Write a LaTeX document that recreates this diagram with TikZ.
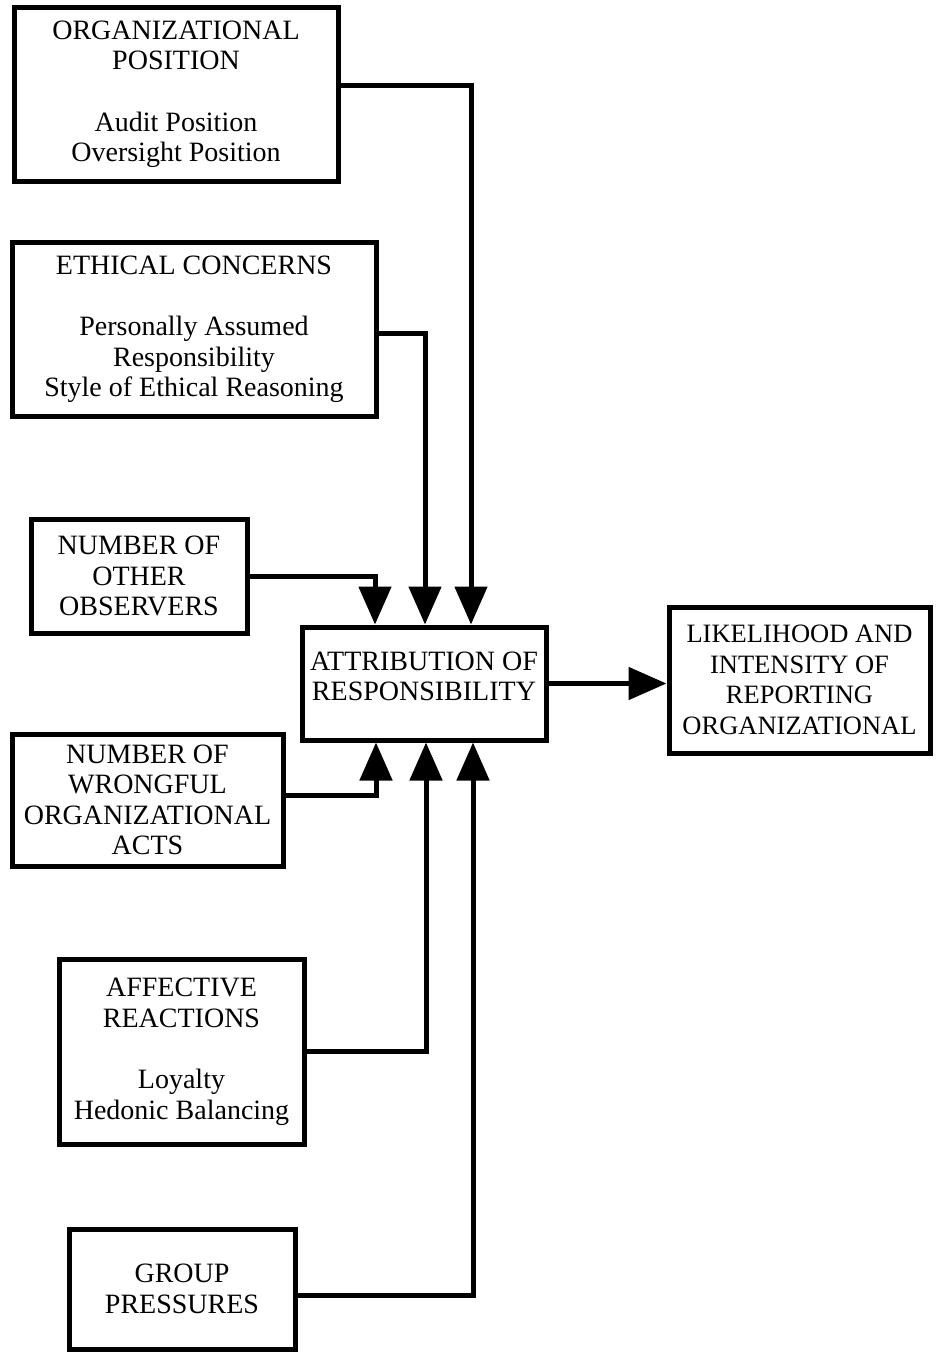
\documentclass[tikz,border=0pt]{standalone}
\usepackage{fontspec}
\setmainfont{Liberation Serif}
\usetikzlibrary{arrows.meta,calc}
\begin{document}
\begin{tikzpicture}[x=1pt,y=-1pt,
  box/.style={draw,line width=5pt,inner sep=0pt,align=center,
    font=\fontsize{28}{30.5}\selectfont},
  conn/.style={line width=5pt,-{Triangle[length=38pt,width=32pt]}}]
\useasboundingbox (0,0) rectangle (938,1354);

% factor boxes on the left
\node[box,minimum width=324pt,minimum height=173pt] (pos) at (176,94.5)
  {ORGANIZATIONAL\\POSITION\\[31pt]Audit Position\\Oversight Position};
\node[box,minimum width=364pt,minimum height=174pt] (eth) at (194,329)
  {ETHICAL CONCERNS\\[31pt]Personally Assumed\\Responsibility\\Style of Ethical Reasoning};
\node[box,minimum width=216pt,minimum height=114pt] (obs) at (139,576)
  {NUMBER OF\\OTHER\\OBSERVERS};
\node[box,minimum width=271pt,minimum height=132pt] (acts) at (147.5,800)
  {NUMBER OF\\WRONGFUL\\ORGANIZATIONAL\\ACTS};
\node[box,minimum width=245pt,minimum height=185pt] (aff) at (181.5,1051.5)
  {AFFECTIVE\\REACTIONS\\[31pt]Loyalty\\Hedonic Balancing};
\node[box,minimum width=226pt,minimum height=120pt] (grp) at (182,1289)
  {GROUP\\PRESSURES};

% central and outcome boxes
\node[box,minimum width=244pt,minimum height=113pt] (attr) at (424,683.5)
  {ATTRIBUTION OF\\RESPONSIBILITY\\[-16pt]};
\node[box,minimum width=261pt,minimum height=146pt,
  font=\fontsize{26.5}{30.5}\selectfont] (out) at (799.5,680)
  {LIKELIHOOD AND\\INTENSITY OF\\REPORTING\\ORGANIZATIONAL};

% connectors into the top of the central box
\draw[conn] ([yshift=9pt]pos.east) -| ($(attr.north)+(47,0)$);
\draw[conn] ([yshift=-4pt]eth.east) -| ($(attr.north)+(1,0)$);
\draw[conn] (obs.east) -| ($(attr.north)+(-49,0)$);

% connectors into the bottom of the central box
\draw[conn] ([yshift=5pt]acts.east) -| ($(attr.south)+(-48,0)$);
\draw[conn] (aff.east) -| ($(attr.south)+(2,0)$);
\draw[conn] ([yshift=-6pt]grp.east) -| ($(attr.south)+(49,0)$);

% outcome
\draw[conn] (attr.east) -- (attr.east -| out.west);
\end{tikzpicture}
\end{document}
